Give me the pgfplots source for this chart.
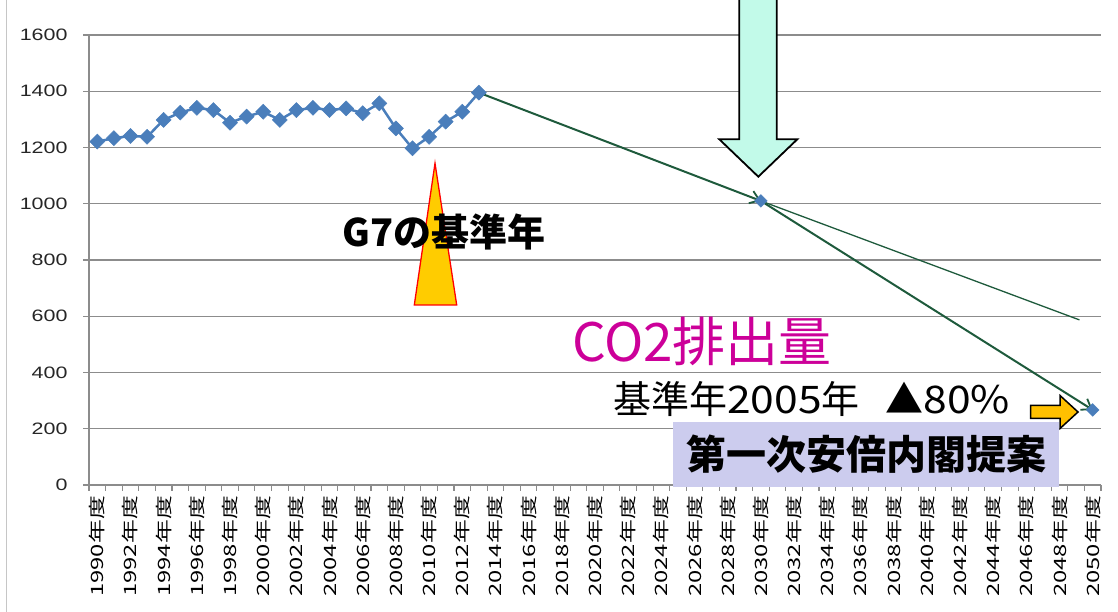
\documentclass[border=0pt]{standalone}
\usepackage{fontspec}
\setmainfont{Noto Sans CJK JP}
\newfontfamily\lib{Liberation Sans}
\usepackage{pgfplots}
\pgfplotsset{compat=1.18}
\usetikzlibrary{arrows.meta}
\definecolor{serblue}{RGB}{74,126,187}
\definecolor{arrgreen}{RGB}{30,90,60}
\definecolor{gridgray}{RGB}{140,140,140}
\definecolor{mint}{RGB}{194,250,233}
\definecolor{gold}{RGB}{255,204,0}
\definecolor{arrorange}{RGB}{255,192,0}
\definecolor{lavender}{RGB}{204,204,238}
\definecolor{co2pink}{RGB}{204,0,153}
\begin{document}
\begin{tikzpicture}[x=1pt,y=1pt]
\path[use as bounding box] (0,0) rectangle (1118,612);
% chart frame
\draw[gray!45, line width=1pt] (6.7,0) -- (6.7,612);
\begin{axis}[
  at={(89pt,127pt)}, anchor=south west,
  scale only axis, width=1012pt, height=450pt,
  xmin=1989.5, xmax=2050.5, ymin=0, ymax=1600,
  axis lines=left,
  axis line style={-, draw=gridgray, line width=1.2pt},
  tick align=outside,
  major tick length=6pt,
  tick style={draw=gridgray, line width=1.1pt},
  ytick={0,200,...,1600},
  ymajorgrids,
  grid style={draw=gridgray, line width=1.2pt},
  yticklabel={\pgfmathtruncatemacro{\v}{round(\tick)}\scalebox{1.3}[1]{\v}},
  yticklabel style={font=\lib\fontsize{16.5}{16.5}\selectfont, text=black!85, xshift=-12pt},
  xtick={1989.5,1990.5,...,2050.5},
  xticklabels={},
  extra x ticks={1990,1992,...,2050},
  extra x tick style={
    major tick length=0pt,
    xticklabel={\pgfmathtruncatemacro{\yr}{round(\tick)}\scalebox{1.4}[1]{\yr 年度}},
    xticklabel style={rotate=90, anchor=east, font=\fontsize{17}{17}\selectfont, inner sep=1pt, xshift=-10pt},
  },
]
% emissions record 1990-2013
\addplot[serblue, line width=2.5pt, mark=square*, mark size=5.3pt,
  mark options={rotate=45, fill=serblue, draw=serblue, line width=0.5pt}]
  coordinates {
  (1990,1221) (1991,1233) (1992,1241) (1993,1238) (1994,1298)
  (1995,1324) (1996,1341) (1997,1333) (1998,1288) (1999,1310)
  (2000,1327) (2001,1298) (2002,1333) (2003,1341) (2004,1333)
  (2005,1339) (2006,1322) (2007,1357) (2008,1268) (2009,1197)
  (2010,1238) (2011,1292) (2012,1327) (2013,1395)
  };
% targets
\addplot[only marks, mark=square*, mark size=4.5pt,
  mark options={rotate=45, fill=serblue, draw=serblue}]
  coordinates {(2030,1010) (2050,267)};
% reduction paths
\addplot[arrgreen, line width=2pt,
  -{Straight Barb[length=9pt,width=13pt,line width=1.8pt]}]
  coordinates {(2013,1395) (2030,1010)};
\addplot[arrgreen, line width=2pt,
  -{Straight Barb[length=9pt,width=13pt,line width=1.8pt]}]
  coordinates {(2030,1010) (2050,267)};
\addplot[arrgreen, line width=1.3pt]
  coordinates {(2030,1010) (2049.2,587)};
\end{axis}

% pointer to the 2030 target
\begin{scope}
\clip (0,0) rectangle (1118,612);
\draw[fill=mint, draw=black, line width=1.8pt, line join=miter]
  (739.3,625) -- (739.3,472.7) -- (719.3,472.7) -- (758.3,435.3)
  -- (797.3,472.7) -- (776.7,472.7) -- (776.7,625) -- cycle;
\end{scope}

% G7 base year marker
\draw[fill=gold, draw=red, line width=1.3pt, line join=miter]
  (435,448.7) -- (414.3,307) -- (456.7,307) -- cycle;
\node[font=\fontsize{38}{38}\selectfont\bfseries, inner sep=0pt] at (444,380) {G7の基準年};

% labels on the right
\node[font=\fontsize{53}{53}\selectfont, text=co2pink, inner sep=0pt] at (702,271) {CO2排出量};
\node[font=\fontsize{38}{38}\selectfont, inner sep=0pt, anchor=west] at (613,213)
  {基準年\scalebox{1.12}[1]{2005}年\hspace{26pt}▲\scalebox{1.12}[1]{80\%}};
\draw[fill=arrorange, draw=black, line width=1.5pt, line join=miter]
  (1030.7,193.5) -- (1060,193.5) -- (1060,183.5) -- (1078,200)
  -- (1060,216.5) -- (1060,206.5) -- (1030.7,206.5) -- cycle;
\node[fill=lavender, minimum width=386pt, minimum height=65pt, inner sep=0pt,
  font=\fontsize{40}{40}\selectfont\bfseries] at (866,157.5) {第一次安倍内閣提案};
\end{tikzpicture}
\end{document}
